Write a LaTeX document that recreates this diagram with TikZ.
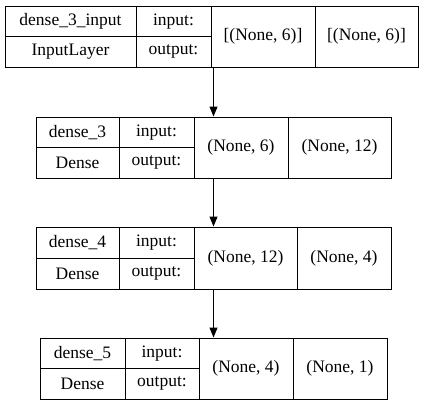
\documentclass[tikz,border=0pt]{standalone}
\usepackage{fontspec}
\setmainfont{Liberation Serif}
\usetikzlibrary{arrows.meta,fit}

\begin{document}
\begin{tikzpicture}[
    x=1pt, y=-1pt,
    cell/.style={draw, line width=1pt, inner sep=0pt, align=center, font=\fontsize{17.5}{19}\selectfont},
    half/.style={cell, minimum height=30.5pt},
    full/.style={cell, minimum height=61pt},
    wrap/.style={inner sep=0pt, outer sep=0pt},
    arr/.style={-{Triangle[length=10pt, width=8pt]}, line width=1pt}
]
\useasboundingbox (0,0) rectangle (427,405);

% input layer
\node[half, minimum width=131pt] (n1) at (70.5,21.25) {dense\_3\_input};
\node[half, minimum width=131pt] (c1) at (70.5,51.75) {InputLayer};
\node[half, minimum width=75pt] (i1) at (173.5,21.25) {input:};
\node[half, minimum width=75pt] (o1) at (173.5,51.75) {output:};
\node[full, minimum width=104pt] (si1) at (263,36.5) {[(None, 6)]};
\node[full, minimum width=103pt] (so1) at (366.5,36.5) {[(None, 6)]};
\node[wrap, fit=(n1)(so1)] (l1) {};

% dense_3
\node[half, minimum width=83pt] (n2) at (77.5,132.25) {dense\_3};
\node[half, minimum width=83pt] (c2) at (77.5,162.75) {Dense};
\node[half, minimum width=75pt] (i2) at (156.5,132.25) {input:};
\node[half, minimum width=75pt] (o2) at (156.5,162.75) {output:};
\node[full, minimum width=94pt] (si2) at (241,147.5) {(None, 6)};
\node[full, minimum width=103pt] (so2) at (339.5,147.5) {(None, 12)};
\node[wrap, fit=(n2)(so2)] (l2) {};

% dense_4
\node[half, minimum height=31pt, minimum width=83pt] (n3) at (77.5,242.5) {dense\_4};
\node[half, minimum height=31pt, minimum width=83pt] (c3) at (77.5,273.5) {Dense};
\node[half, minimum height=31pt, minimum width=75pt] (i3) at (156.5,242.5) {input:};
\node[half, minimum height=31pt, minimum width=75pt] (o3) at (156.5,273.5) {output:};
\node[full, minimum height=62pt, minimum width=103pt] (si3) at (245.5,258) {(None, 12)};
\node[full, minimum height=62pt, minimum width=94pt] (so3) at (344,258) {(None, 4)};
\node[wrap, fit=(n3)(so3)] (l3) {};

% dense_5
\node[half, minimum width=85pt] (n4) at (82.5,353.25) {dense\_5};
\node[half, minimum width=85pt] (c4) at (82.5,383.75) {Dense};
\node[half, minimum width=74pt] (i4) at (162,353.25) {input:};
\node[half, minimum width=74pt] (o4) at (162,383.75) {output:};
\node[full, minimum width=94pt] (si4) at (246,368.5) {(None, 4)};
\node[full, minimum width=94pt] (so4) at (340,368.5) {(None, 1)};
\node[wrap, fit=(n4)(so4)] (l4) {};

\draw[arr] (l2.north |- l1.south) -- (l2.north);
\draw[arr] (l3.north |- l2.south) -- (l3.north);
\draw[arr] (l4.north |- l3.south) -- (l4.north);
\end{tikzpicture}
\end{document}
